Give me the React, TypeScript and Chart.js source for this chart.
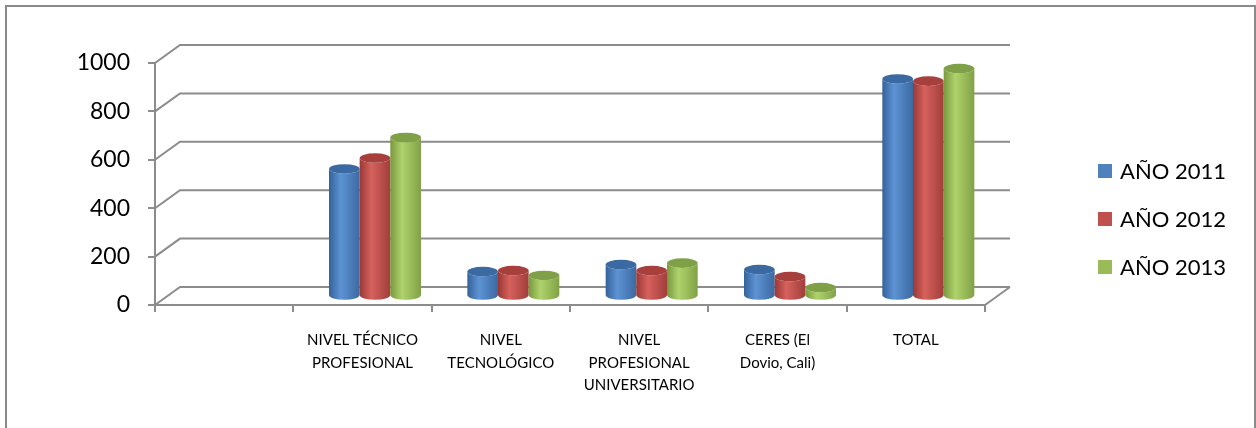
import { useEffect, useRef } from "react";
import { Chart, registerables } from "chart.js";

Chart.register(...registerables);

const categories: (string | string[])[] = [
  "",
  ["NIVEL TÉCNICO", "PROFESIONAL"],
  ["NIVEL", "TECNOLÓGICO"],
  ["NIVEL", "PROFESIONAL", "UNIVERSITARIO"],
  ["CERES (El", "Dovio, Cali)"],
  "TOTAL",
];
const seriesNames = ["AÑO 2011", "AÑO 2012", "AÑO 2013"];
const values2011 = [null, 525, 101, 130, 109, 897];
const values2012 = [null, 570, 105, 105, 80, 888];
const values2013 = [null, 655, 85, 136, 35, 940];
const yTickValues = [0, 200, 400, 600, 800, 1000];

const baseColors = ["#4F81BD", "#C0504D", "#9BBB59"];
const shade = [
  { dark: "#34629a", light: "#5d93d4", end: "#3c69a2", top: "#3b6aa3" },
  { dark: "#993835", light: "#d6615d", end: "#a13e3b", top: "#a7403d" },
  { dark: "#78983d", light: "#b0d26c", end: "#80a246", top: "#7fa046" },
];

const DEPTH_DX = 25;
const DEPTH_DY = -18;
const MID_DX = 12.5;
const MID_DY = -9;
const RY = 4.8;
const GRID = "#8c8c8c";
const FONT = "Lato, 'Open Sans', sans-serif";

const threeDPlugin = {
  id: "threeD",
  beforeDraw(chart: any) {
    const ctx = chart.ctx;
    ctx.save();
    ctx.fillStyle = "#ffffff";
    ctx.fillRect(0, 0, chart.width, chart.height);
    ctx.strokeStyle = "#8a8a8a";
    ctx.lineWidth = 2;
    ctx.strokeRect(6, 6, chart.width - 7, chart.height + 10);
    ctx.restore();
  },
  beforeDatasetsDraw(chart: any) {
    const ctx = chart.ctx;
    const { left, right } = chart.chartArea;
    const ys = chart.scales.y;
    ctx.save();
    ctx.strokeStyle = GRID;
    ctx.lineWidth = 2;
    ctx.lineCap = "butt";
    for (const v of yTickValues) {
      const yf = ys.getPixelForValue(v);
      ctx.beginPath();
      ctx.moveTo(left, yf);
      ctx.lineTo(left + DEPTH_DX, yf + DEPTH_DY);
      ctx.lineTo(right + DEPTH_DX, yf + DEPTH_DY);
      ctx.stroke();
    }
    const y0 = ys.getPixelForValue(0);
    ctx.beginPath();
    ctx.moveTo(right, y0);
    ctx.lineTo(right + DEPTH_DX, y0 + DEPTH_DY);
    ctx.stroke();

    // cylinders
    chart.data.datasets.forEach((ds: any, i: number) => {
      const meta = chart.getDatasetMeta(i);
      const s = shade[i];
      meta.data.forEach((el: any, j: number) => {
        if (ds.data[j] == null) return;
        const p = el.getProps(["x", "y", "base", "width"], true);
        const cx = p.x + MID_DX;
        const rx = p.width / 2;
        const top = p.y + MID_DY;
        const bot = p.base + MID_DY;
        const g = ctx.createLinearGradient(cx - rx, 0, cx + rx, 0);
        g.addColorStop(0, s.dark);
        g.addColorStop(0.38, s.light);
        g.addColorStop(1, s.end);
        ctx.beginPath();
        ctx.moveTo(cx - rx, top);
        ctx.lineTo(cx - rx, bot);
        ctx.ellipse(cx, bot, rx, RY, 0, Math.PI, 0, true);
        ctx.lineTo(cx + rx, top);
        ctx.ellipse(cx, top, rx, RY, 0, 0, Math.PI, false);
        ctx.closePath();
        ctx.fillStyle = g;
        ctx.fill();
        ctx.beginPath();
        ctx.ellipse(cx, top, rx, RY, 0, 0, Math.PI * 2);
        ctx.fillStyle = s.top;
        ctx.fill();
      });
    });
    ctx.restore();
    return false;
  },
  afterDraw(chart: any) {
    const ctx = chart.ctx;
    ctx.save();
    ctx.font = `22px ${FONT}`;
    ctx.textBaseline = "middle";
    ctx.textAlign = "left";
    seriesNames.forEach((name, i) => {
      const cy = 171 + 48 * i;
      ctx.fillStyle = baseColors[i];
      ctx.fillRect(1098, cy - 7, 14, 14);
      ctx.fillStyle = "#000000";
      ctx.fillText(name, 1120, cy + 1);
    });
    ctx.restore();
  },
};

export default function App() {
  const ref = useRef<HTMLCanvasElement | null>(null);
  useEffect(() => {
    if (!ref.current) return;
    const chart = new Chart(ref.current, {
      type: "bar",
      data: {
        labels: categories as any,
        datasets: [values2011, values2012, values2013].map((d, i) => ({
          label: seriesNames[i],
          data: d as any,
          backgroundColor: baseColors[i],
          categoryPercentage: 0.665,
          barPercentage: 1,
        })),
      },
      options: {
        animation: false,
        responsive: false,
        devicePixelRatio: 1,
        layout: { padding: { left: 0, top: 63, right: 271, bottom: 0 } },
        plugins: {
          legend: { display: false },
          tooltip: { enabled: false },
        },
        scales: {
          x: {
            afterFit: (s: any) => {
              s.height = 123;
            },
            grid: {
              offset: true,
              drawOnChartArea: false,
              drawTicks: true,
              tickLength: 7,
              color: GRID,
              lineWidth: 2,
            },
            border: { display: true, color: GRID, width: 2 },
            ticks: {
              color: "#000000",
              font: { family: FONT, size: 15, lineHeight: 1.5 },
              padding: 17,
              maxRotation: 0,
              autoSkip: false,
            },
          },
          y: {
            min: 0,
            max: 1000,
            afterFit: (s: any) => {
              s.width = 155;
            },
            afterBuildTicks: (s: any) => {
              s.ticks = yTickValues.map((v) => ({ value: v }));
            },
            grid: {
              drawOnChartArea: false,
              drawTicks: true,
              tickLength: 7,
              color: GRID,
              lineWidth: 2,
            },
            border: { display: true, color: GRID, width: 2 },
            ticks: {
              color: "#000000",
              font: { family: FONT, size: 23 },
              padding: 18,
              callback: (v: any) => String(v),
            },
          },
        },
      },
      plugins: [threeDPlugin],
    });
    return () => chart.destroy();
  }, []);
  return (
    <div style={{ position: "absolute", left: 0, top: 0, width: 1256, height: 428 }}>
      <canvas ref={ref} width={1256} height={428} />
    </div>
  );
}
